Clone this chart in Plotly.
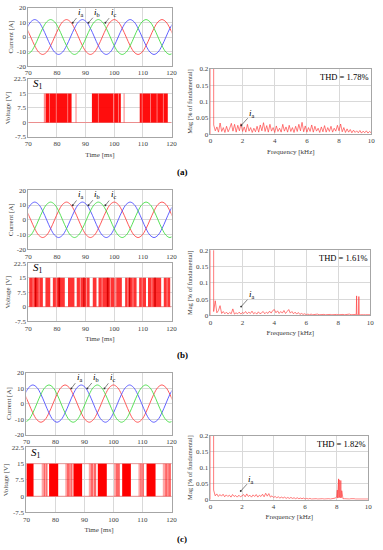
import plotly.graph_objects as go

W, H = 383, 550
FONT = "Liberation Serif"

# ---------------- data ----------------
# phase currents sampled every 30 electrical degrees (60 Hz), ms / A
t_cur = [69.44, 70.83, 72.22, 73.61, 75.00, 76.39, 77.78, 79.17, 80.56, 81.94,
         83.33, 84.72, 86.11, 87.50, 88.89, 90.28, 91.67, 93.06, 94.44, 95.83,
         97.22, 98.61, 100.00, 101.39, 102.78, 104.17, 105.56, 106.94, 108.33, 109.72,
         111.11, 112.50, 113.89, 115.28, 116.67, 118.06, 119.44, 120.83]
ia = [6, 0, -6, -10.4, -12, -10.4, -6, 0, 6, 10.4, 12, 10.4,
      6, 0, -6, -10.4, -12, -10.4, -6, 0, 6, 10.4, 12, 10.4,
      6, 0, -6, -10.4, -12, -10.4, -6, 0, 6, 10.4, 12, 10.4,
      6, 0]
ib = [6, 10.4, 12, 10.4, 6, 0, -6, -10.4, -12, -10.4, -6, 0,
      6, 10.4, 12, 10.4, 6, 0, -6, -10.4, -12, -10.4, -6, 0,
      6, 10.4, 12, 10.4, 6, 0, -6, -10.4, -12, -10.4, -6, 0,
      6, 10.4]
ic = [-12, -10.4, -6, 0, 6, 10.4, 12, 10.4, 6, 0, -6, -10.4,
      -12, -10.4, -6, 0, 6, 10.4, 12, 10.4, 6, 0, -6, -10.4,
      -12, -10.4, -6, 0, 6, 10.4, 12, 10.4, 6, 0, -6, -10.4,
      -12, -10.4]

V_LOW, V_HIGH = 0, 15
# S1 gate switching bursts: (start ms, end ms, shade)
pwm_a = [(70.0, 70.15, 0.5), (75.4, 76.1, 0.45), (76.1, 85.1, 0.95), (86.4, 86.9, 0.35),
         (92.2, 102.3, 0.95), (103.2, 103.7, 0.35), (108.9, 118.7, 0.95)]
gap_a = [(77.2, 77.5), (79.6, 79.9), (81.8, 82.0), (83.6, 83.9), (84.6, 84.8),
         (93.0, 93.2), (94.3, 94.6), (96.6, 96.8), (99.6, 100.0), (101.3, 101.6),
         (109.6, 109.9), (111.0, 111.2), (112.5, 112.8), (114.8, 115.1), (117.0, 117.3), (118.2, 118.4)]
dark_a = []

pwm_b = [(70.3, 75.07, 0.8), (75.97, 77.66, 0.8), (78.56, 82.73, 0.8), (83.85, 86.1, 0.8),
         (86.9, 91.4, 0.8), (92.5, 93.8, 0.8), (94.5, 99.95, 0.8), (99.95, 100.7, 0.45),
         (100.7, 102.66, 0.8), (103.8, 107.8, 0.8), (108.7, 111.1, 0.8), (111.8, 116.4, 0.8),
         (117.3, 119.55, 0.8)]
gap_b = [(71.5, 71.8), (73.6, 73.9), (76.7, 76.9), (79.6, 79.9), (81.5, 81.7), (84.8, 85.0),
         (88.0, 88.3), (90.2, 90.5), (95.6, 95.9), (97.0, 97.2), (98.5, 98.8), (101.5, 101.7),
         (104.6, 104.9), (106.4, 106.7), (109.6, 109.9), (113.0, 113.3), (115.0, 115.2), (118.3, 118.6)]
dark_b = [(72.3, 72.8), (80.5, 81.1), (89.2, 89.6), (97.4, 98.0), (105.2, 105.6), (114.0, 114.5)]

pwm_c = [(70.0, 72.46, 1.0), (75.26, 75.93, 0.35), (75.93, 77.27, 0.6), (77.83, 80.96, 1.0),
         (83.4, 84.0, 0.35), (84.0, 85.9, 0.6), (86.2, 89.2, 1.0), (91.5, 92.1, 0.35),
         (92.1, 94.05, 0.6), (94.6, 97.7, 1.0), (100.2, 100.8, 0.35), (100.8, 102.2, 0.6),
         (103.0, 106.0, 1.0), (108.6, 109.2, 0.35), (109.2, 110.5, 0.6), (111.4, 114.5, 1.0),
         (117.0, 117.8, 0.35), (117.8, 119.8, 0.6)]
gap_c = [(76.5, 76.8), (84.9, 85.2), (93.0, 93.3), (101.4, 101.6), (109.7, 110.0), (118.6, 118.9)]
dark_c = []

# current spectrum, % of fundamental; harmonics from 0.2 kHz in 0.1 kHz steps
FUND = 100.0
mag_a = [0.028, 0.010, 0.022, 0.006, 0.034, 0.008, 0.020, 0.005, 0.024, 0.007,
         0.018, 0.033, 0.009, 0.030, 0.006, 0.027, 0.010, 0.032, 0.008, 0.022,
         0.006, 0.030, 0.009, 0.020, 0.005, 0.018, 0.007, 0.024, 0.006, 0.028,
         0.010, 0.035, 0.008, 0.026, 0.006, 0.030, 0.009, 0.020, 0.005, 0.025,
         0.008, 0.018, 0.006, 0.030, 0.009, 0.022, 0.006, 0.027, 0.008, 0.020,
         0.005, 0.024, 0.008, 0.030, 0.010, 0.036, 0.007, 0.025, 0.006, 0.020,
         0.008, 0.028, 0.006, 0.024, 0.009, 0.018, 0.005, 0.022, 0.007, 0.026,
         0.006, 0.020, 0.008, 0.024, 0.006, 0.018, 0.009, 0.027, 0.010, 0.031,
         0.007, 0.020, 0.005, 0.016, 0.006, 0.014, 0.004, 0.012, 0.005, 0.010,
         0.004, 0.011, 0.003, 0.009, 0.004, 0.010, 0.003, 0.008, 0.004]
ext_f_a, ext_m_a = [], []

mag_b = [0.012, 0.045, 0.008, 0.015, 0.030, 0.006, 0.012, 0.005, 0.010, 0.004,
         0.009, 0.005, 0.020, 0.004, 0.008, 0.005, 0.010, 0.004, 0.009, 0.006,
         0.012, 0.005, 0.010, 0.006, 0.013, 0.005, 0.009, 0.004, 0.011, 0.005,
         0.008, 0.012, 0.005, 0.010, 0.006, 0.013, 0.007, 0.015, 0.018, 0.008,
         0.014, 0.006, 0.012, 0.007, 0.015, 0.006, 0.012, 0.018, 0.007, 0.012,
         0.005, 0.010, 0.004, 0.009, 0.003, 0.006, 0.003, 0.005, 0.002, 0.004,
         0.002, 0.004, 0.002, 0.003, 0.002, 0.004, 0.002, 0.003, 0.002, 0.003,
         0.002, 0.003, 0.002, 0.003, 0.002, 0.003, 0.002, 0.003, 0.002, 0.003,
         0.002, 0.003, 0.002, 0.003, 0.002, 0.004, 0.002, 0.003, 0.002, 0.003,
         0.002, 0.003, 0.002, 0.003, 0.002, 0.002, 0.002, 0.002, 0.002]
ext_f_b = [9.13, 9.15, 9.17, 9.27, 9.29, 9.31]
ext_m_b = [0.002, 0.060, 0.002, 0.002, 0.058, 0.002]

mag_c = [0.030, 0.012, 0.018, 0.010, 0.016, 0.011, 0.017, 0.009, 0.015, 0.010,
         0.014, 0.008, 0.016, 0.010, 0.013, 0.008, 0.014, 0.009, 0.012, 0.016,
         0.009, 0.018, 0.010, 0.014, 0.008, 0.015, 0.010, 0.016, 0.008, 0.014,
         0.010, 0.017, 0.009, 0.020, 0.011, 0.019, 0.008, 0.012, 0.007, 0.010,
         0.006, 0.009, 0.005, 0.008, 0.005, 0.008, 0.004, 0.007, 0.004, 0.007,
         0.004, 0.006, 0.003, 0.006, 0.003, 0.005, 0.003, 0.005, 0.002, 0.004,
         0.002, 0.004, 0.002, 0.003, 0.002, 0.003, 0.002, 0.003, 0.002, 0.003,
         0.002, 0.003, 0.002, 0.003, 0.002, 0.003, 0.003, 0.005, 0.008, 0.010,
         0.008, 0.006, 0.003, 0.003, 0.002, 0.003, 0.002, 0.003, 0.004, 0.003,
         0.002, 0.002, 0.002, 0.002, 0.002, 0.002, 0.002, 0.002, 0.002]
ext_f_c = [8.04, 8.06, 8.08, 8.12, 8.14, 8.16, 8.18, 8.22, 8.24, 8.26, 8.28, 8.32]
ext_m_c = [0.030, 0.005, 0.055, 0.065, 0.006, 0.062, 0.008, 0.058, 0.006, 0.060, 0.007, 0.028]

THD = ["THD = 1.78%", "THD = 1.61%", "THD = 1.82%"]
PANEL = ["(a)", "(b)", "(c)"]

# ---------------- layout geometry (pixels) ----------------
rows = [
    dict(cur=(25, 172, 4, 63), volt=(25, 172, 76, 135), spec=(212, 377, 66, 132), lab=170,
         pwm=pwm_a, gap=gap_a, dark=dark_a, mag=mag_a, ef=ext_f_a, em=ext_m_a, top=False),
    dict(cur=(25, 172, 189, 249), volt=(25, 172, 263, 322), spec=(212, 376, 250, 316), lab=356,
         pwm=pwm_b, gap=gap_b, dark=dark_b, mag=mag_b, ef=ext_f_b, em=ext_m_b, top=False),
    dict(cur=(23, 172, 374, 437), volt=(23, 172, 450, 516), spec=(212, 374, 438, 503), lab=543,
         pwm=pwm_c, gap=gap_c, dark=dark_c, mag=mag_c, ef=ext_f_c, em=ext_m_c, top=True),
]

def xd(l, r):
    return [l / W, r / W]

def yd(t, b):
    return [1 - b / H, 1 - t / H]

def rects(blocks, lo, hi):
    xs, ys = [], []
    for b in blocks:
        s, e = b[0], b[1]
        xs += [s, s, e, e, s, None]
        ys += [lo, hi, hi, lo, lo, None]
    return xs, ys

fig = go.Figure()
layout = {}
annotations = []

RED = "rgba(255,60,60,0.85)"
BLUE = "rgba(70,70,255,0.85)"
GREEN = "rgba(60,220,60,0.85)"
GRID = "#d9d9d9"
FRAME = "#a6a6a6"
TICKF = dict(family=FONT, size=7, color="#404040")
TITLEF = dict(family=FONT, size=7, color="#404040")

def axis_common():
    return dict(showgrid=True, gridcolor=GRID, gridwidth=0.6, zeroline=False,
                showline=True, mirror=True, linecolor=FRAME, linewidth=0.8,
                ticks="", tickfont=TICKF, ticklabeloverflow="allow")

n = 0
for ri, r in enumerate(rows):
    # ---- current subplot ----
    n += 1
    xa, ya = f"x{n}", f"y{n}"
    for vals, col in ((ia, RED), (ib, BLUE), (ic, GREEN)):
        fig.add_trace(go.Scatter(x=t_cur, y=vals, mode="lines", xaxis=xa, yaxis=ya,
                                 line=dict(color=col, width=1, shape="spline", smoothing=1.0),
                                 showlegend=False, hoverinfo="skip"))
    l, rr, t, b = r["cur"]
    layout[f"xaxis{n}"] = dict(axis_common(), domain=xd(l, rr), anchor=ya, range=[70, 120],
                               tickvals=[70, 80, 90, 100, 110, 120])
    layout[f"yaxis{n}"] = dict(axis_common(), domain=yd(t, b), anchor=xa, range=[-20, 20],
                               tickvals=[-20, -10, 0, 10, 20],
                               ticktext=["-20", "-10", "0", "10", "20"],
                               title=dict(text="Current [A]", font=TITLEF, standoff=2))
    labels = [("<i>i</i><sub>a</sub>", 85.5, 9.8, 88.4, 17.0),
              ("<i>i</i><sub>b</sub>", 91.0, 9.8, 94.1, 16.8),
              ("<i>i</i><sub>c</sub>", 96.9, 9.8, 99.8, 16.8)]
    for txt, x0, y0, x1, y1 in labels:
        annotations.append(dict(x=x0, y=y0, ax=x1, ay=y1, xref=xa, yref=ya, axref=xa, ayref=ya,
                                text=txt, showarrow=True, arrowhead=6, arrowsize=0.8,
                                arrowwidth=0.6, arrowcolor="#333333",
                                font=dict(family=FONT, size=9, color="black")))

    # ---- voltage subplot ----
    n += 1
    xa, ya = f"x{n}", f"y{n}"
    fig.add_trace(go.Scatter(x=[70, 120], y=[V_LOW, V_LOW], mode="lines", xaxis=xa, yaxis=ya,
                             line=dict(color="rgba(255,60,60,0.6)", width=0.8),
                             showlegend=False, hoverinfo="skip"))
    if r["top"]:
        fig.add_trace(go.Scatter(x=[70, 120], y=[V_HIGH, V_HIGH], mode="lines", xaxis=xa, yaxis=ya,
                                 line=dict(color="rgba(255,60,60,0.5)", width=0.8),
                                 showlegend=False, hoverinfo="skip"))
    shades = sorted(set(p[2] for p in r["pwm"]))
    for s in shades:
        xs, ys = rects([p for p in r["pwm"] if p[2] == s], V_LOW, V_HIGH)
        fig.add_trace(go.Scatter(x=xs, y=ys, mode="lines", fill="toself", xaxis=xa, yaxis=ya,
                                 fillcolor=f"rgba(255,0,0,{s})", line=dict(width=0),
                                 showlegend=False, hoverinfo="skip"))
    if r["gap"]:
        xs, ys = rects(r["gap"], V_LOW, V_HIGH)
        fig.add_trace(go.Scatter(x=xs, y=ys, mode="lines", fill="toself", xaxis=xa, yaxis=ya,
                                 fillcolor="rgba(255,255,255,0.5)", line=dict(width=0),
                                 showlegend=False, hoverinfo="skip"))
    if r["dark"]:
        xs, ys = rects(r["dark"], V_LOW, V_HIGH)
        fig.add_trace(go.Scatter(x=xs, y=ys, mode="lines", fill="toself", xaxis=xa, yaxis=ya,
                                 fillcolor="rgba(215,0,0,1)", line=dict(width=0),
                                 showlegend=False, hoverinfo="skip"))
    l, rr, t, b = r["volt"]
    layout[f"xaxis{n}"] = dict(axis_common(), domain=xd(l, rr), anchor=ya, range=[70, 120],
                               tickvals=[70, 80, 90, 100, 110, 120],
                               title=dict(text="Time [ms]", font=TITLEF, standoff=4))
    layout[f"yaxis{n}"] = dict(axis_common(), domain=yd(t, b), anchor=xa, range=[-7.5, 22.5],
                               tickvals=[-7.5, 0, 7.5, 15, 22.5],
                               ticktext=["-7.5", "0", "7.5", "15", "22.5"],
                               title=dict(text="Voltage [V]", font=TITLEF, standoff=2))
    annotations.append(dict(x=71.0, y=20.0, xref=xa, yref=ya, xanchor="left", yanchor="middle",
                            text="<i>S</i><sub>1</sub>", showarrow=False,
                            font=dict(family=FONT, size=11, color="black")))

    # ---- spectrum subplot ----
    n += 1
    xa, ya = f"x{n}", f"y{n}"
    freq = [0.0, 0.06] + [round(0.2 + 0.1 * i, 2) for i in range(len(r["mag"]))] + r["ef"]
    mag = [0.0, FUND] + r["mag"] + r["em"]
    pairs = sorted(zip(freq, mag), key=lambda p: p[0])
    fig.add_trace(go.Scatter(x=[p[0] for p in pairs], y=[p[1] for p in pairs], mode="lines",
                             xaxis=xa, yaxis=ya, line=dict(color=RED, width=0.8),
                             showlegend=False, hoverinfo="skip"))
    l, rr, t, b = r["spec"]
    layout[f"xaxis{n}"] = dict(axis_common(), domain=xd(l, rr), anchor=ya, range=[0, 10],
                               tickvals=[0, 2, 4, 6, 8, 10],
                               ticktext=["0", "2", "4", "6", "8", "10"],
                               title=dict(text="Frequency [kHz]", font=TITLEF, standoff=4))
    layout[f"yaxis{n}"] = dict(axis_common(), domain=yd(t, b), anchor=xa, range=[0, 0.2],
                               tickvals=[0, 0.05, 0.1, 0.15, 0.2],
                               ticktext=["0", "0.05", "0.1", "0.15", "0.2"],
                               title=dict(text="Mag [% of fundamental]",
                                          font=dict(family=FONT, size=6.5, color="#404040"),
                                          standoff=2))
    annotations.append(dict(x=9.9, y=0.197, xref=xa, yref=ya, xanchor="right", yanchor="top",
                            text=THD[ri], showarrow=False,
                            font=dict(family=FONT, size=8.5, color="black")))
    annotations.append(dict(x=1.92, y=0.027, ax=2.6, ay=0.064, xref=xa, yref=ya, axref=xa, ayref=ya,
                            text="<i>i</i><sub>a</sub>", showarrow=True, arrowhead=6, arrowsize=0.8,
                            arrowwidth=0.6, arrowcolor="#333333",
                            font=dict(family=FONT, size=9, color="black")))

    # ---- panel label ----
    annotations.append(dict(x=183 / W, y=1 - r["lab"] / H, xref="paper", yref="paper",
                            text="<b>" + PANEL[ri] + "</b>", showarrow=False,
                            xanchor="center", yanchor="middle",
                            font=dict(family=FONT, size=9, color="black")))

fig.update_layout(width=W, height=H, margin=dict(l=0, r=0, t=0, b=0),
                  paper_bgcolor="white", plot_bgcolor="white",
                  font=dict(family=FONT), showlegend=False,
                  annotations=annotations, **layout)

fig.write_html("out.html", config={"displayModeBar": False},
               post_script="document.body.style.margin='0';document.body.style.overflow='hidden';")
